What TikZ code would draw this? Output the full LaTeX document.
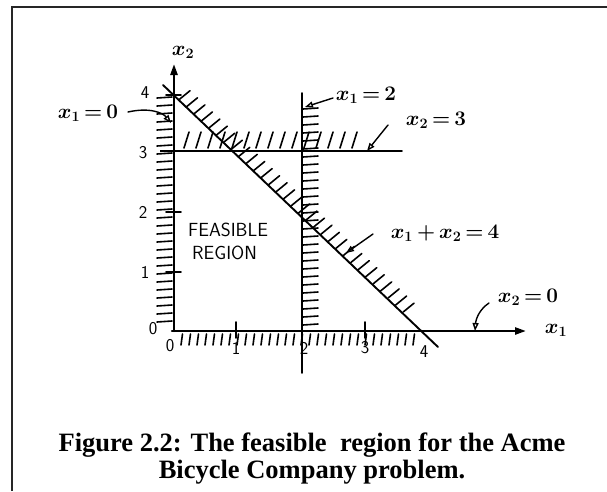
\documentclass[tikz,border=0pt]{standalone}
\usepackage{fontspec}
\newfontfamily\capfont{Liberation Serif}
\usetikzlibrary{arrows.meta,calc}
\begin{document}
\begin{tikzpicture}[x=1pt,y=-1pt,
  hand/.style={line width=1.9pt, line cap=round},
  axisline/.style={line width=2.4pt, line cap=round, -{Triangle[length=11pt,width=7pt]}},
  hatch/.style={line width=1.6pt, line cap=round},
  lbl/.style={font=\fontsize{22}{23}\selectfont\boldmath, inner sep=0pt},
  num/.style={font=\sffamily\fontsize{18}{19}\selectfont, inner sep=0pt},
  region/.style={font=\sffamily\fontsize{19}{20}\selectfont, inner sep=0pt, anchor=base west},
  captxt/.style={font=\capfont\bfseries\fontsize{26.5}{27}\selectfont, inner sep=0pt, anchor=base},
  pointer/.style={line width=1.4pt, line cap=round, -{Triangle[open,length=8pt,width=6pt]}},
]
\useasboundingbox (0,0) rectangle (607,491);
% frame
\draw[line width=1.9pt, black!85] (12,491) -- (12,7) -- (607,7);

% main coordinates
\coordinate (O) at (174,331);
\coordinate (Ytip) at (174,64);
\coordinate (Xs) at (172,331);
\coordinate (Xtip) at (526,331);
\coordinate (V1) at (302,93);
\coordinate (V2) at (302,373);
\coordinate (H1) at (172,151);
\coordinate (H2) at (402,151);
\coordinate (D1) at (163,85);
\coordinate (D2) at (438,347);
\coordinate (A) at (174,95);
\coordinate (B) at (423,331);

% hatching
\foreach \y in {97,105,...,326} \draw[hatch] (157,\y+1) -- (172,\y);
\foreach \x in {181,189,...,414} \draw[hatch] (\x+1.5,334) -- (\x,345);
\foreach \y in {109,117,...,326} \draw[hatch] (303,\y) -- (318,\y-1);
\foreach \x in {184,196,...,362} \draw[hatch] (\x,148) -- (\x+5,132);
\foreach \t in {0.02,0.05,...,0.93} \draw[hatch] ($(A)!\t!(B)$) -- ++(11,-9);

% lines
\draw[axisline] (O) -- (Ytip);
\draw[axisline] (Xs) -- (Xtip);
\draw[hand] (V1) -- (V2);
\draw[hand] (H1) -- (H2);
\draw[hand] (D1) -- (D2);

% axis ticks
\foreach \y in {95,212,272} \draw[hand] (166,\y) -- (181,\y);
\draw[line width=2.4pt] (160,151) -- (176,151);
\foreach \x in {236,365} \draw[hand] (\x,322) -- (\x,338);

% numbers
\node[num] (y4) at (145,93) {4};
\node[num] (y3) at (143,153) {3};
\node[num] (y2) at (143,212) {2};
\node[num] (y1) at (145,272) {1};
\node[num] (y0) at (153,329) {0};
\node[num] (x0) at (170,346) {0};
\node[num] (x1n) at (236,348) {1};
\node[num] (x2n) at (304,348) {2};
\node[num] (x3n) at (365,348) {3};
\node[num] (x4n) at (424,352) {4};

% axis labels
\node[lbl] (lx2) at (183,52) {$x_2$};
\node[lbl] (lx1) at (556,330) {$x_1$};

% constraint labels
\node[lbl] (l10) at (88,113) {$x_1\,{=}\,0$};
\node[lbl] (l12) at (366,95) {$x_1\,{=}\,2$};
\node[lbl] (l23) at (436,120) {$x_2\,{=}\,3$};
\node[lbl] (lsum) at (445,233) {$x_1\,{+}\,x_2\,{=}\,4$};
\node[lbl] (l20) at (528,297) {$x_2\,{=}\,0$};

\coordinate (p10) at (128,112);
\coordinate (t10) at (171,123);
\coordinate (p12) at (333,98);
\coordinate (t12) at (305,107);
\coordinate (p23) at (388,125);
\coordinate (t23) at (367,151);
\coordinate (psum) at (373,234);
\coordinate (tsum) at (346,253);
\coordinate (p20) at (489,303);
\coordinate (t20) at (475,331);
\draw[pointer] (p10) .. controls (150,107) and (163,113) .. (t10);
\draw[pointer] (p12) -- (t12);
\draw[pointer] (p23) -- (t23);
\draw[pointer] (psum) -- (tsum);
\draw[pointer] (p20) .. controls (480,309) and (476,318) .. (t20);

% region text
\node[region] (fe) at (188,236) {FEASIBLE};
\node[region] (re) at (192,259) {REGION};

% caption
\node[captxt] (cap1) at (312,451) {Figure 2.2: The feasible\ \ region for the Acme};
\node[captxt] (cap2) at (312,478) {Bicycle Company problem.};
\end{tikzpicture}
\end{document}
